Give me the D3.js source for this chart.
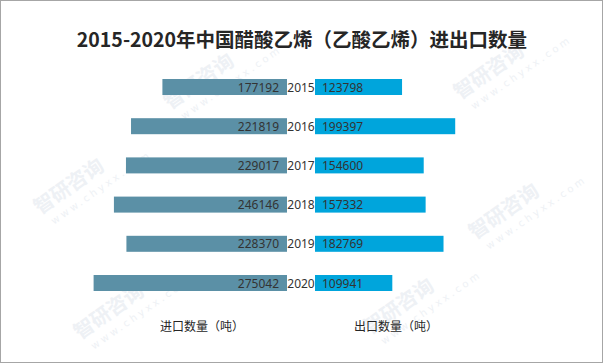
<!DOCTYPE html>
<html lang="zh">
<head>
<meta charset="utf-8">
<title>醋酸乙烯进出口数量</title>
<script src="https://d3js.org/d3.v7.min.js"></script>
<style>
  body { margin: 0; background: #fff; }
</style>
</head>
<body>
<div id="chart"></div>
<script>
var years = ["2015", "2016", "2017", "2018", "2019", "2020"];
var imports = [177192, 221819, 229017, 246146, 228370, 275042];
var exports = [123798, 199397, 154600, 157332, 182769, 109941];

var W = 605, H = 364;
var cjk = "'Noto Sans CJK SC', 'Noto Sans', sans-serif";

var svg = d3.select("#chart").append("svg")
  .attr("width", W).attr("height", H);

svg.append("rect")
  .attr("x", 0.5).attr("y", 0.5)
  .attr("width", 602).attr("height", 362)
  .attr("fill", "#fff").attr("stroke", "#a6a6a6");

// faint watermarks, kept inside the frame
var marks = [[170, 110], [460, 100], [40, 215], [475, 240], [80, 340], [370, 335]];
var wm = svg.selectAll("g.wm").data(marks).enter().append("g")
  .attr("transform", function(d){ return "translate(" + d[0] + "," + d[1] + ") rotate(-35)"; });
wm.append("text")
  .attr("font-family", cjk).attr("font-size", 20).attr("font-weight", "bold")
  .attr("fill", "#eef1f5").text("智研咨询");
wm.append("text")
  .attr("y", 16).attr("x", 6)
  .attr("font-family", "'DejaVu Sans', sans-serif").attr("font-size", 10)
  .attr("letter-spacing", 3)
  .attr("fill", "#eef1f5").text("www.chyxx.com");

var x = d3.scaleLinear().domain([0, 275042]).range([0, 193.4]);
var y = d3.scalePoint().domain(years).range([87, 283]);
var leftEdge = 287, rightEdge = 315, barH = 16;

svg.append("text")
  .attr("x", 302).attr("y", 47)
  .attr("text-anchor", "middle")
  .attr("font-family", cjk).attr("font-size", 19.5).attr("font-weight", "bold")
  .attr("fill", "#262626")
  .text("2015-2020年中国醋酸乙烯（乙酸乙烯）进出口数量");

svg.selectAll("rect.imp").data(imports).enter().append("rect")
  .attr("class", "imp")
  .attr("x", function(d){ return leftEdge - x(d); })
  .attr("y", function(d, i){ return y(years[i]) - barH / 2; })
  .attr("width", function(d){ return x(d); })
  .attr("height", barH)
  .attr("fill", "#5b90a6");

svg.selectAll("rect.exp").data(exports).enter().append("rect")
  .attr("class", "exp")
  .attr("x", rightEdge)
  .attr("y", function(d, i){ return y(years[i]) - barH / 2; })
  .attr("width", function(d){ return x(d); })
  .attr("height", barH)
  .attr("fill", "#00a5dc");

var font = "'Noto Sans', sans-serif";

svg.selectAll("text.impv").data(imports).enter().append("text")
  .attr("x", leftEdge - 8)
  .attr("y", function(d, i){ return y(years[i]) + 4.5; })
  .attr("text-anchor", "end")
  .attr("font-family", font).attr("font-size", 12)
  .attr("fill", "#333")
  .text(function(d){ return d; });

svg.selectAll("text.expv").data(exports).enter().append("text")
  .attr("x", rightEdge + 7)
  .attr("y", function(d, i){ return y(years[i]) + 4.5; })
  .attr("font-family", font).attr("font-size", 12)
  .attr("fill", "#333")
  .text(function(d){ return d; });

svg.selectAll("text.yr").data(years).enter().append("text")
  .attr("x", (leftEdge + rightEdge) / 2)
  .attr("y", function(d){ return y(d) + 4.5; })
  .attr("text-anchor", "middle")
  .attr("font-family", font).attr("font-size", 12)
  .attr("fill", "#333")
  .text(function(d){ return d; });

svg.append("text")
  .attr("x", 202).attr("y", 331)
  .attr("text-anchor", "middle")
  .attr("font-family", cjk).attr("font-size", 12)
  .attr("fill", "#262626")
  .text("进口数量（吨）");

svg.append("text")
  .attr("x", 396).attr("y", 331)
  .attr("text-anchor", "middle")
  .attr("font-family", cjk).attr("font-size", 12)
  .attr("fill", "#262626")
  .text("出口数量（吨）");
</script>
</body>
</html>
